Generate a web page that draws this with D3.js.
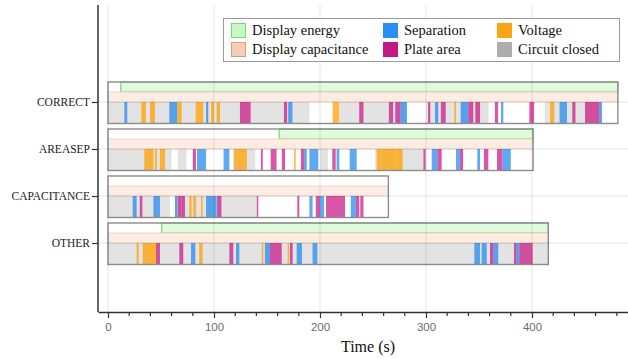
<!DOCTYPE html>
<html>
<head>
<meta charset="utf-8">
<script src="https://cdn.jsdelivr.net/npm/d3@7"></script>
<style>
  body { margin: 0; background: #fff; }
  svg { display: block; }
</style>
</head>
<body>
<svg id="chart" width="628" height="358"></svg>
<script>
// categories and session lengths (s)
const categories = ['CORRECT', 'AREASEP', 'CAPACITANCE', 'OTHER'];
const sessionEnds = [481, 401, 264.5, 415.4];

// interval data: [category, start, end] in seconds
const displayEnergy = [['CORRECT', 12, 481], ['AREASEP', 161.6, 401], ['OTHER', 50.6, 415.4]];
const displayCapacitance = [['CORRECT', 0, 481], ['AREASEP', 0, 401], ['CAPACITANCE', 0, 264.5], ['OTHER', 0, 415.4]];
const circuitClosed = [
    ['CORRECT', 0, 190], ['CORRECT', 218, 282], ['CORRECT', 300, 359], ['CORRECT', 412, 466],
    ['AREASEP', 0, 60], ['AREASEP', 66, 74], ['AREASEP', 118, 139], ['AREASEP', 200, 207.5], ['AREASEP', 252, 297.5],
    ['CAPACITANCE', 0, 58.5], ['CAPACITANCE', 63, 140],
    ['OTHER', 0, 415.4]
];
const separation = [
    ['CORRECT', 15.4, 18.2], ['CORRECT', 57.8, 65.4], ['CORRECT', 92.5, 94.6], ['CORRECT', 170, 174], ['CORRECT', 276, 282],
    ['CORRECT', 308.5, 311.6], ['CORRECT', 332.7, 340], ['CORRECT', 370.8, 373], ['CORRECT', 426, 433], ['CORRECT', 463.5, 466],
    ['AREASEP', 84, 92.5], ['AREASEP', 109, 114.5], ['AREASEP', 185, 187.5], ['AREASEP', 190, 198.4], ['AREASEP', 215.7, 218.2],
    ['AREASEP', 228, 234.6], ['AREASEP', 305.4, 310.7], ['AREASEP', 328.3, 332], ['AREASEP', 348.4, 351], ['AREASEP', 372, 380],
    ['CAPACITANCE', 23.3, 27], ['CAPACITANCE', 42.8, 49], ['CAPACITANCE', 63.2, 65.4], ['CAPACITANCE', 92.5, 102.5],
    ['CAPACITANCE', 190, 193], ['CAPACITANCE', 200, 203.8], ['CAPACITANCE', 229, 234],
    ['OTHER', 78.3, 82.4], ['OTHER', 120.8, 123.9], ['OTHER', 148, 152.8], ['OTHER', 178, 183], ['OTHER', 193, 197.5],
    ['OTHER', 345.6, 351], ['OTHER', 352.5, 357.3], ['OTHER', 363.5, 368.2], ['OTHER', 385, 388]
];
const plateArea = [
    ['CORRECT', 124.5, 134.6], ['CORRECT', 166, 169], ['CORRECT', 237, 241], ['CORRECT', 265, 269], ['CORRECT', 271, 276],
    ['CORRECT', 302, 304], ['CORRECT', 314, 318.6], ['CORRECT', 340, 344.6], ['CORRECT', 346.5, 351], ['CORRECT', 365, 368],
    ['CORRECT', 397.5, 402], ['CORRECT', 438, 441], ['CORRECT', 450, 463.5],
    ['AREASEP', 80, 83], ['AREASEP', 144.3, 146], ['AREASEP', 153.5, 159], ['AREASEP', 164, 167], ['AREASEP', 182, 185],
    ['AREASEP', 211.6, 214.8], ['AREASEP', 297.5, 299.7], ['AREASEP', 310.7, 314.8], ['AREASEP', 332, 335],
    ['AREASEP', 354.7, 358.8], ['AREASEP', 367, 372],
    ['CAPACITANCE', 30, 32.4], ['CAPACITANCE', 65.7, 69.5], ['CAPACITANCE', 69.5, 72.6], ['CAPACITANCE', 103, 107],
    ['CAPACITANCE', 140.3, 141.8], ['CAPACITANCE', 178.6, 180.5], ['CAPACITANCE', 196, 200], ['CAPACITANCE', 205.7, 223.6],
    ['CAPACITANCE', 234, 237], ['CAPACITANCE', 238, 241],
    ['OTHER', 45.3, 49], ['OTHER', 67.3, 71], ['OTHER', 114.5, 118.2], ['OTHER', 152.8, 163.9], ['OTHER', 171.7, 174.2],
    ['OTHER', 360.4, 363.5], ['OTHER', 383, 385], ['OTHER', 388, 400.6]
];
const voltage = [
    ['CORRECT', 31.4, 35.8], ['CORRECT', 39.6, 44.3], ['CORRECT', 65.4, 69.5], ['CORRECT', 82.7, 89.9], ['CORRECT', 97.2, 100],
    ['CORRECT', 102.5, 105.7], ['CORRECT', 212, 218], ['CORRECT', 326.7, 328.3], ['CORRECT', 417, 421],
    ['AREASEP', 34.3, 42.8], ['AREASEP', 44.3, 46], ['AREASEP', 49, 53.8], ['AREASEP', 119, 122], ['AREASEP', 122, 131],
    ['AREASEP', 175.5, 177], ['AREASEP', 253.5, 258], ['AREASEP', 258, 271], ['AREASEP', 271, 278],
    ['CAPACITANCE', 76.7, 78.9], ['CAPACITANCE', 80.5, 83], ['CAPACITANCE', 87.7, 89.3],
    ['OTHER', 27, 29], ['OTHER', 32.7, 45.3], ['OTHER', 86, 89.3], ['OTHER', 145, 146.5], ['OTHER', 169.5, 171]
];

const majorTicks = [0, 100, 200, 300, 400];
const minorTicks = d3.range(0, 490, 20);
const legendItems = [
    { label: 'Display energy', fill: '#c9f7c6', stroke: '#74dc70' },
    { label: 'Display capacitance', fill: '#f4cfb8', stroke: '#e49a72' },
    { label: 'Separation', fill: '#2a8ff5', stroke: '#2a8ff5' },
    { label: 'Plate area', fill: '#c41a86', stroke: '#c41a86' },
    { label: 'Voltage', fill: '#fba414', stroke: '#fba414' },
    { label: 'Circuit closed', fill: '#adadad', stroke: '#adadad' }
];

const serif = '"Liberation Serif", "DejaVu Serif", serif';
const svg = d3.select('#chart');

const x = d3.scaleLinear().domain([-9.43, 490.57]).range([98, 628]);
const y = d3.scalePoint().domain(categories).range([102, 243]);
const plotTop = 5, plotBottom = 312;

// row geometry relative to category position
const energyBand = [-20, -10], capBand = [-10, 0], eventBand = [0, 21.5];

const rows = svg.append('g');

// white row boxes
rows.selectAll('.rowbg')
    .data(categories)
    .join('rect')
    .attr('x', x(0))
    .attr('y', d => y(d) + energyBand[0])
    .attr('width', (d, i) => x(sessionEnds[i]) - x(0))
    .attr('height', eventBand[1] - energyBand[0])
    .attr('fill', '#fff');

function drawIntervals(data, band, fill, opacity, stroke, strokeWidth) {
    rows.append('g')
        .selectAll('rect')
        .data(data)
        .join('rect')
        .attr('x', d => x(d[1]))
        .attr('y', d => y(d[0]) + band[0])
        .attr('width', d => x(d[2]) - x(d[1]))
        .attr('height', band[1] - band[0])
        .attr('fill', fill)
        .attr('fill-opacity', opacity)
        .attr('stroke', stroke)
        .attr('stroke-width', strokeWidth);
}

drawIntervals(displayEnergy, energyBand, '#dffadc', 1, '#93da8c', 1.5);
drawIntervals(displayCapacitance, capBand, '#fbede3', 1, '#f4cbb4', 0.8);
drawIntervals(circuitClosed, eventBand, '#a9a9a9', 0.32, 'none', 0);
drawIntervals(separation, eventBand, '#1e88f0', 0.72, 'none', 0);
drawIntervals(plateArea, eventBand, '#c71585', 0.72, 'none', 0);
drawIntervals(voltage, eventBand, '#ffa000', 0.75, 'none', 0);

// row outlines
rows.selectAll('.rowbox')
    .data(categories)
    .join('rect')
    .attr('x', x(0))
    .attr('y', d => y(d) + energyBand[0])
    .attr('width', (d, i) => x(sessionEnds[i]) - x(0))
    .attr('height', eventBand[1] - energyBand[0])
    .attr('fill', 'none')
    .attr('stroke', '#8c8c8c')
    .attr('stroke-width', 1.4);

// light grid drawn over everything
const grid = svg.append('g').attr('stroke', '#000').attr('stroke-opacity', 0.07).attr('stroke-width', 1.5);
grid.selectAll('.vg')
    .data(majorTicks)
    .join('line')
    .attr('x1', d => x(d)).attr('x2', d => x(d))
    .attr('y1', plotTop).attr('y2', plotBottom);
grid.selectAll('.hg')
    .data(categories)
    .join('line')
    .attr('x1', 98).attr('x2', 628)
    .attr('y1', d => y(d)).attr('y2', d => y(d));

// x axis
const xAxis = svg.append('g')
    .attr('transform', `translate(0, ${plotBottom})`)
    .call(d3.axisBottom(x).tickValues(majorTicks).tickSize(6).tickPadding(5).tickSizeOuter(0));
xAxis.select('.domain').attr('stroke', '#333').attr('stroke-width', 1.5);
xAxis.selectAll('.tick line').attr('stroke', '#333').attr('stroke-width', 1.2);
xAxis.selectAll('.tick text')
    .attr('fill', '#6b6b6b')
    .attr('font-family', '"Liberation Sans", Arial, sans-serif')
    .attr('font-size', '11.5px');
svg.append('g')
    .selectAll('line')
    .data(minorTicks.filter(d => !majorTicks.includes(d)))
    .join('line')
    .attr('x1', d => x(d)).attr('x2', d => x(d))
    .attr('y1', plotBottom).attr('y2', plotBottom + 4)
    .attr('stroke', '#333').attr('stroke-width', 1.2);

// y axis
const yAxis = svg.append('g')
    .attr('transform', 'translate(98, 0)')
    .call(d3.axisLeft(y).tickSize(6).tickPadding(2).tickSizeOuter(0));
yAxis.select('.domain').attr('d', `M0,${plotTop}V${plotBottom}`).attr('stroke', '#333').attr('stroke-width', 1.5);
yAxis.selectAll('.tick line').attr('stroke', '#333').attr('stroke-width', 1.2);
yAxis.selectAll('.tick text')
    .attr('fill', '#1a1a1a')
    .attr('font-family', serif)
    .attr('font-size', '11.5px');

svg.append('text')
    .attr('x', 368).attr('y', 352)
    .attr('text-anchor', 'middle')
    .attr('font-family', serif)
    .attr('font-size', '16px')
    .attr('fill', '#111')
    .text('Time (s)');

// legend
const legend = svg.append('g');
legend.append('rect')
    .attr('x', 223.5).attr('y', 18.5).attr('width', 396).attr('height', 43)
    .attr('fill', '#fff').attr('stroke', '#9a9a9a').attr('stroke-width', 1);
const colX = [231, 383, 497];
const rowY = [23, 42];
const li = legend.selectAll('.item')
    .data(legendItems)
    .join('g')
    .attr('transform', (d, i) => `translate(${colX[Math.floor(i / 2)]}, ${rowY[i % 2]})`);
li.append('rect')
    .attr('x', 0.5).attr('y', 0.5).attr('width', 14).attr('height', 14)
    .attr('fill', d => d.fill).attr('stroke', d => d.stroke).attr('stroke-width', 1);
li.append('text')
    .attr('x', 21).attr('y', 12)
    .attr('font-family', serif)
    .attr('font-size', '14.5px')
    .attr('fill', '#111')
    .text(d => d.label);
</script>
</body>
</html>
